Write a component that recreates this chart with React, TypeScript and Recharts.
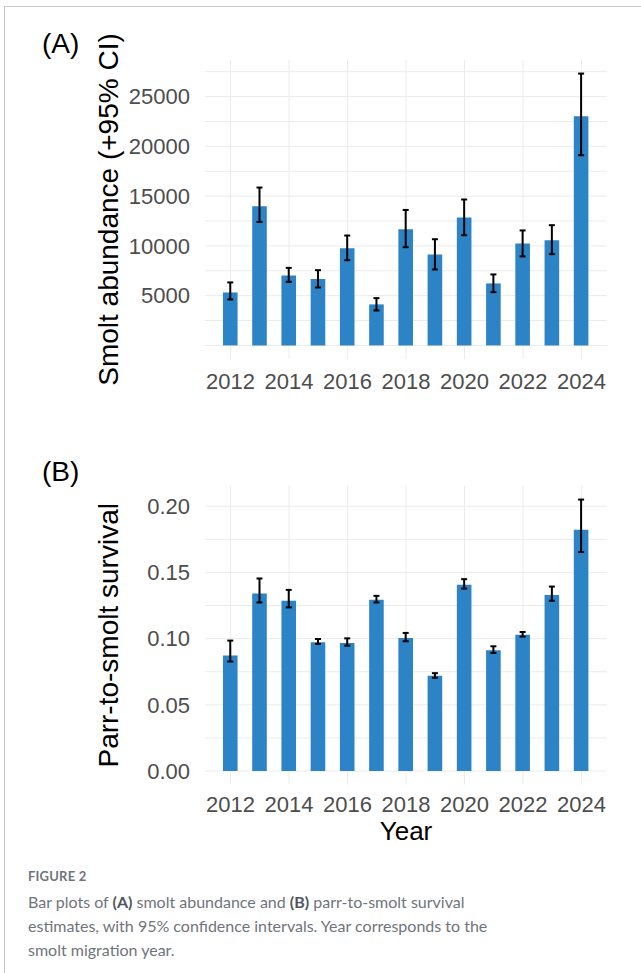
import { BarChart, Bar, XAxis, YAxis, CartesianGrid, ErrorBar, Label } from 'recharts';

const YEARS = [2012, 2013, 2014, 2015, 2016, 2017, 2018, 2019, 2020, 2021, 2022, 2023, 2024];

// (A) smolt abundance with 95% CI
const ABUNDANCE = [5320, 13990, 7030, 6660, 9770, 4120, 11680, 9140, 12850, 6230, 10240, 10570, 23020];
const ABUNDANCE_LO = [4620, 12410, 6390, 5820, 8560, 3510, 9870, 7630, 11070, 5350, 8940, 9170, 19110];
const ABUNDANCE_HI = [6330, 15860, 7790, 7560, 11040, 4750, 13610, 10670, 14660, 7130, 11550, 12080, 27310];

// (B) parr-to-smolt survival with 95% CI
const SURVIVAL = [0.0872, 0.134, 0.1286, 0.0972, 0.0967, 0.1293, 0.1005, 0.0719, 0.1406, 0.0912, 0.103, 0.133, 0.1822];
const SURVIVAL_LO = [0.0827, 0.1273, 0.1236, 0.096, 0.0947, 0.1273, 0.098, 0.0704, 0.1378, 0.0892, 0.1015, 0.1286, 0.1654];
const SURVIVAL_HI = [0.0985, 0.1454, 0.1368, 0.0997, 0.1002, 0.1323, 0.1043, 0.0739, 0.1449, 0.0942, 0.105, 0.1393, 0.205];

const X_TICKS = [2012, 2014, 2016, 2018, 2020, 2022, 2024];
const A_TICKS = [5000, 10000, 15000, 20000, 25000];
const A_GRID = [0, 2500, 5000, 7500, 10000, 12500, 15000, 17500, 20000, 22500, 25000, 27500];
const B_TICKS = [0, 0.05, 0.1, 0.15, 0.2];
const B_GRID = [0, 0.025, 0.05, 0.075, 0.1, 0.125, 0.15, 0.175, 0.2];

const BAR = '#2C83C5';
const GRID = '#ebebeb';
const FONT = '"Liberation Sans", Arial, sans-serif';
const tickStyle = { fontSize: 22, fill: '#4d4d4d', fontFamily: FONT };

const abundanceData = YEARS.map((year, i) => ({
  year,
  value: ABUNDANCE[i],
  err: [ABUNDANCE[i] - ABUNDANCE_LO[i], ABUNDANCE_HI[i] - ABUNDANCE[i]],
}));

const survivalData = YEARS.map((year, i) => ({
  year,
  value: SURVIVAL[i],
  err: [SURVIVAL[i] - SURVIVAL_LO[i], SURVIVAL_HI[i] - SURVIVAL[i]],
}));

const panelLetter = (top: number): React.CSSProperties => ({
  position: 'absolute', left: 42, top, fontFamily: FONT, fontSize: 28, color: '#000', lineHeight: 1,
});

export default function App() {
  return (
    <div style={{ position: 'absolute', left: 0, top: 0, width: 641, height: 973, background: '#fff', overflow: 'hidden' }}>
      <div style={{ position: 'absolute', left: 4, top: 6, width: 660, height: 980, borderTop: '1px solid #c4c8cf', borderLeft: '1px solid #c4c8cf' }} />

      {/* (A) abundance */}
      <div style={{ position: 'absolute', left: 0, top: 0 }}>
        <BarChart width={641} height={400} data={abundanceData} margin={{ top: 60, right: 34, bottom: 0, left: 0 }}>
          <CartesianGrid stroke={GRID} strokeWidth={1} horizontalValues={A_GRID} verticalValues={YEARS} />
          <XAxis dataKey="year" type="number" domain={[2011.125, 2024.875]} ticks={X_TICKS} allowDataOverflow
            height={41} axisLine={false} tickLine={false} tickSize={0} tickMargin={14} tick={tickStyle} />
          <YAxis type="number" domain={[-1365, 28674]} ticks={A_TICKS} allowDataOverflow width={205}
            axisLine={false} tickLine={false} tickSize={0} tickMargin={15} tick={tickStyle}>
            <Label value="Smolt abundance (+95% CI)" angle={-90} position="center" dx={6}
              style={{ fontSize: 28, fill: '#000', fontFamily: FONT }} />
          </YAxis>
          <Bar dataKey="value" fill={BAR} barSize={14.6} isAnimationActive={false}>
            <ErrorBar dataKey="err" width={3} stroke="#000" strokeWidth={2} isAnimationActive={false} />
          </Bar>
        </BarChart>
      </div>
      <div style={panelLetter(30)}>(A)</div>

      {/* (B) survival */}
      <div style={{ position: 'absolute', left: 0, top: 426 }}>
        <BarChart width={641} height={420} data={survivalData} margin={{ top: 60, right: 34, bottom: 0, left: 0 }}>
          <CartesianGrid stroke={GRID} strokeWidth={1} horizontalValues={B_GRID} verticalValues={YEARS} />
          <XAxis dataKey="year" type="number" domain={[2011.125, 2024.875]} ticks={X_TICKS} allowDataOverflow
            height={61.4} axisLine={false} tickLine={false} tickSize={0} tickMargin={12} tick={tickStyle}>
            <Label value="Year" position="insideBottom" offset={6}
              style={{ fontSize: 26, fill: '#000', fontFamily: FONT }} />
          </XAxis>
          <YAxis type="number" domain={[-0.01025, 0.21525]} ticks={B_TICKS} allowDataOverflow width={205}
            axisLine={false} tickLine={false} tickSize={0} tickMargin={15} tick={tickStyle}
            tickFormatter={(v: number) => v.toFixed(2)}>
            <Label value="Parr-to-smolt survival" angle={-90} position="center" dx={6}
              style={{ fontSize: 28, fill: '#000', fontFamily: FONT }} />
          </YAxis>
          <Bar dataKey="value" fill={BAR} barSize={14.6} isAnimationActive={false}>
            <ErrorBar dataKey="err" width={3} stroke="#000" strokeWidth={2} isAnimationActive={false} />
          </Bar>
        </BarChart>
      </div>
      <div style={panelLetter(458)}>(B)</div>

      {/* caption */}
      <div style={{ position: 'absolute', left: 28, top: 868, width: 600, fontFamily: 'Lato, "Noto Sans", sans-serif', color: '#6f747c' }}>
        <div style={{ fontSize: 13, fontWeight: 700, letterSpacing: 0.2, lineHeight: '16px', marginBottom: 6 }}>FIGURE 2</div>
        <div style={{ fontSize: 16, lineHeight: '24px' }}>
          Bar plots of <b style={{ color: '#50555e' }}>(A)</b> smolt abundance and <b style={{ color: '#50555e' }}>(B)</b> parr-to-smolt survival<br />
          estimates, with 95% confidence intervals. Year corresponds to the<br />
          smolt migration year.
        </div>
      </div>
    </div>
  );
}
